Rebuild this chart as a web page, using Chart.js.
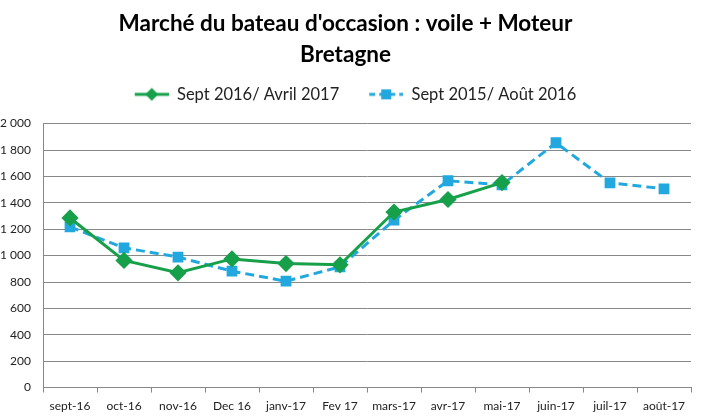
<!DOCTYPE html>
<html><head><meta charset="utf-8">
<script src="https://cdn.jsdelivr.net/npm/chart.js@4/dist/chart.umd.min.js"></script>
<style>html,body{margin:0;padding:0;background:#fff}#wrap{width:701px;height:416px}</style>
</head><body><div id="wrap"><canvas id="c" width="701" height="416"></canvas></div>
<script>
const categories = ["sept-16","oct-16","nov-16","Dec 16","janv-17","Fev 17","mars-17","avr-17","mai-17","juin-17","juil-17","août-17"];
const series2016 = [1285, 963, 870, 975, 940, 930, 1330, 1425, 1553, null, null, null];
const series2015 = [1217, 1059, 989, 882, 806, 915, 1268, 1567, 1536, 1855, 1551, 1506];
const seriesNames = ["Sept 2016/ Avril 2017", "Sept 2015/ Août 2016"];
const titleLines = ["Marché du bateau d'occasion : voile + Moteur", "Bretagne"];
const GREEN = "#17a04a", BLUE = "#22a8df";
const FONT = "Lato";

function legendIcon(color, dashed, marker) {
  const cv = document.createElement('canvas');
  cv.width = 54; cv.height = 14;
  const g = cv.getContext('2d');
  g.strokeStyle = color; g.lineWidth = 3;
  if (dashed) g.setLineDash([6,4]);
  g.beginPath(); g.moveTo(20,7); g.lineTo(54,7); g.stroke();
  g.setLineDash([]);
  g.fillStyle = color;
  if (marker === 'diamond') {
    g.beginPath(); g.moveTo(37,0.5); g.lineTo(43.5,7); g.lineTo(37,13.5); g.lineTo(30.5,7); g.closePath(); g.fill();
  } else {
    g.fillRect(32,2,10,10);
  }
  return cv;
}
const icons = [legendIcon(GREEN,false,'diamond'), legendIcon(BLUE,true,'square')];

const legendMargin = {
  id: 'legendMargin',
  beforeInit(chart) {
    const fit = chart.legend.fit;
    chart.legend.fit = function () { fit.bind(chart.legend)(); this.height += 11; };
  }
};

new Chart(document.getElementById('c'), {
  type: 'line',
  data: {
    labels: categories,
    datasets: [
      {label: seriesNames[0], data: series2016, borderColor: GREEN, backgroundColor: GREEN, borderWidth: 3,
       pointStyle: 'rectRot', pointRadius: 6.5, pointHoverRadius: 6.5, tension: 0},
      {label: seriesNames[1], data: series2015, borderColor: BLUE, backgroundColor: BLUE, borderWidth: 3,
       borderDash: [9,5], pointStyle: 'rect', pointRadius: 5.5, pointHoverRadius: 5.5, tension: 0}
    ]
  },
  options: {
    responsive: false, animation: false,
    layout: {padding: {left: 0, right: 10, top: 6, bottom: -3}},
    plugins: {
      title: {display: true, text: titleLines, color: '#000', font: {family: FONT, size: 22.5, weight: 'bold', lineHeight: 1.38}, padding: {top: 2, bottom: 6}},
      legend: {display: true, position: 'top',
        labels: {usePointStyle: true, pointStyleWidth: 54, boxHeight: 14, color: '#222', font: {family: FONT, size: 16.5}, padding: 10,
          generateLabels: (chart) => chart.data.datasets.map((d,i) => ({text: d.label, pointStyle: icons[i], fillStyle: d.borderColor, strokeStyle: d.borderColor, lineWidth: 0, datasetIndex: i, fontColor: '#222'}))
        }},
      tooltip: {enabled: false}
    },
    scales: {
      x: {offset: true,
        grid: {offset: true, drawOnChartArea: false, drawTicks: true, tickLength: 5, color: '#888'},
        border: {color: '#888', width: 1},
        ticks: {color: '#222', font: {family: FONT, size: 12}, padding: 6, maxRotation: 0, autoSkip: false}},
      y: {min: 0, max: 2000,
        afterFit: s => { s.width = 43; },
        grid: {color: '#888', tickLength: 0, drawTicks: false},
        border: {color: '#888', width: 1},
        ticks: {stepSize: 200, color: '#222', font: {family: FONT, size: 12}, padding: 12,
          callback: v => String(v).replace(/\B(?=(\d{3})+(?!\d))/g, ' ')}}
    }
  },
  plugins: [legendMargin]
});
</script></body></html>
